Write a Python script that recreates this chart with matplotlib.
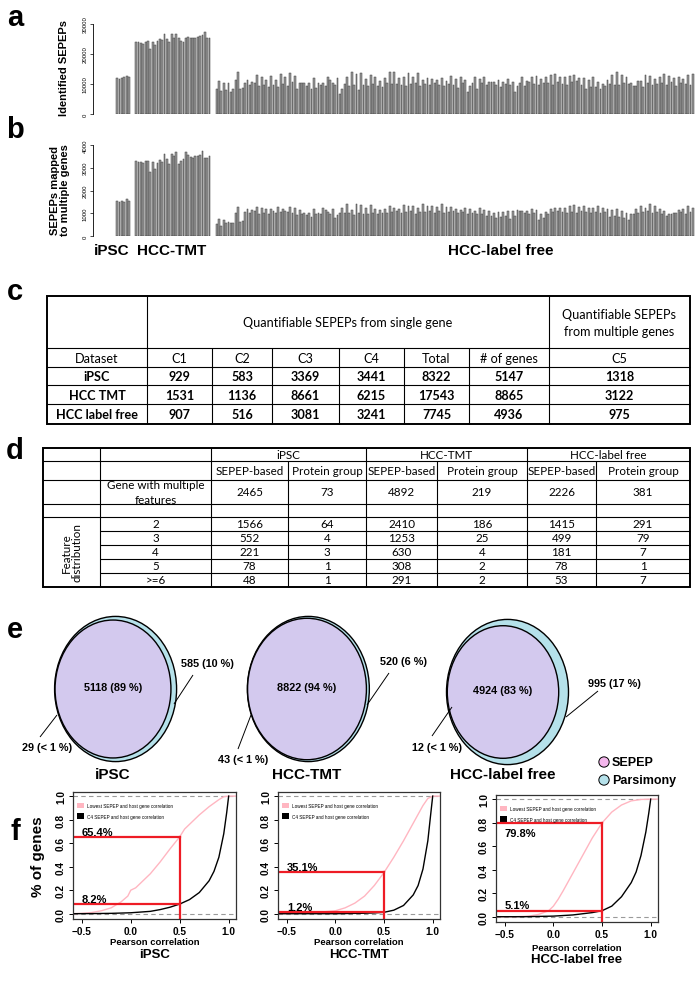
import numpy as np
import matplotlib
matplotlib.use("Agg")
import matplotlib.pyplot as plt
from matplotlib.patches import Ellipse, Rectangle

# ------------------------------------------------------------------ data
ipsc_identified = [12000, 11800, 11900, 12300, 12700, 12400]
tmt_identified = [24000, 24100, 23800, 23300, 24000, 24300, 21800, 24000, 22900, 24400,
                  25000, 24800, 26800, 25000, 23900, 26700, 25300, 26700, 25200, 24300,
                  23900, 25300, 25600, 25500, 25300, 25500, 25700, 25900, 26300, 27200,
                  25300, 25200]
lf_identified = [8300, 10900, 7600, 10300, 8000, 10300, 7500, 8400, 11400, 14100, 8300, 8700, 10300, 11500, 9700, 10600, 10400, 13100, 9300, 12300,
                 9600, 11300, 9000, 12600, 9700, 11400, 8900, 13500, 10000, 12200, 9300, 13600, 10600, 12600, 8400, 10300, 10200, 10400, 9200, 10300,
                 8200, 11900, 8600, 10200, 9700, 10300, 9300, 12200, 11200, 10400, 9600, 11900, 6700, 8400, 10000, 12300, 9200, 13900, 9800, 13200,
                 8100, 13600, 9600, 11600, 9500, 13000, 10100, 12400, 9500, 11100, 9100, 12100, 10500, 14000, 9900, 13900, 10100, 11900, 9800, 12400,
                 9400, 13700, 9900, 12300, 10500, 13600, 9500, 11300, 10000, 12100, 9800, 11800, 10300, 11300, 9700, 12000, 9400, 11000, 10100, 12600,
                 9700, 11600, 8600, 12500, 10200, 11300, 7300, 9300, 10300, 12300, 8300, 11800, 10200, 12200, 9600, 10800, 10700, 10600, 9600, 11200,
                 8900, 10700, 10000, 11600, 9800, 10800, 7200, 9500, 10500, 12500, 9200, 11100, 10600, 12300, 10000, 12800, 9700, 11700, 10300, 12200,
                 10300, 13100, 9600, 13400, 10600, 12200, 10000, 12300, 9800, 12800, 10700, 13100, 10900, 12000, 9600, 12000, 8500, 11300, 9100, 12300,
                 8900, 10800, 8300, 10000, 9500, 11300, 9900, 13000, 9800, 14000, 9700, 12900, 10300, 12300, 9900, 10400, 9300, 9300, 10900, 11000,
                 9100, 13100, 10300, 12800, 9700, 11600, 9900, 12400, 10500, 13300, 9600, 12700, 10800, 11900, 9400, 12200, 10200, 11700, 10000, 12900,
                 9800, 13400]
ipsc_multi = [1550, 1480, 1530, 1500, 1620, 1540]
tmt_multi = [3300, 3270, 3250, 3220, 3310, 3280, 2800, 3270, 2960, 3230, 3320, 3240, 3600, 3400, 3150, 3600,
             3520, 3700, 3150, 3300, 3400, 3700, 3550, 3480, 3450, 3500, 3520, 3560, 3740, 3450, 3440, 3520]
lf_multi = [540, 760, 440, 700, 560, 630, 560, 590, 1030, 1270, 620, 660, 1050, 1170, 1000, 1130, 1100, 1270, 980, 1250,
            1030, 1170, 980, 1200, 1100, 1030, 1290, 1050, 1170, 1100, 1050, 1290, 1000, 1250, 910, 1130, 950, 1030, 910, 1030,
            840, 1200, 980, 1030, 980, 1230, 1140, 1050, 950, 1200, 780, 910, 1030, 1220, 1000, 1420, 1030, 1130, 910, 1390,
            1030, 1350, 950, 1250, 980, 1380, 1000, 1200, 960, 1150, 1020, 1200, 1000, 1300, 1050, 1250, 1080, 1200, 1000, 1350,
            1050, 1300, 1100, 1320, 980, 1250, 1070, 1400, 1050, 1330, 1100, 1320, 1000, 1280, 1080, 1420, 1000, 1280, 1050, 1270,
            1100, 1200, 1000, 1150, 1050, 1250, 980, 1200, 1000, 1100, 980, 1250, 960, 1150, 870, 1100, 900, 1000, 800, 1050,
            850, 1050, 900, 1100, 750, 1100, 900, 1150, 1100, 1080, 1000, 1100, 950, 1180, 1000, 1150, 700, 950, 800, 1050,
            950, 1200, 1050, 1250, 1100, 1250, 1050, 1250, 1000, 1300, 1050, 1350, 1000, 1280, 1100, 1300, 1050, 1250, 1000, 1250,
            1050, 1300, 1000, 1250, 1050, 1200, 850, 1150, 900, 1200, 850, 1100, 800, 1000, 700, 950, 950, 1200, 1000, 1300,
            1050, 1250, 1100, 1400, 1000, 1300, 1050, 1200, 950, 1100, 900, 950, 950, 1000, 1000, 1150, 1050, 1200, 950, 1300,
            1050, 1250]
bar_groups = ["iPSC", "HCC-TMT", "HCC-label free"]
a_ticks = [0, 10000, 20000, 30000]
b_ticks = [0, 1000, 2000, 3000, 4000]

c_columns = ["Dataset", "C1", "C2", "C3", "C4", "Total", "# of genes", "C5"]
c_datasets = ["iPSC", "HCC TMT", "HCC label free"]
c_values = [[929, 583, 3369, 3441, 8322, 5147, 1318],
            [1531, 1136, 8661, 6215, 17543, 8865, 3122],
            [907, 516, 3081, 3241, 7745, 4936, 975]]

d_datasets = ["iPSC", "HCC-TMT", "HCC-label free"]
d_methods = ["SEPEP-based", "Protein group"]
d_multi = [2465, 73, 4892, 219, 2226, 381]
d_bins = ["2", "3", "4", "5", ">=6"]
d_dist = [[1566, 64, 2410, 186, 1415, 291],
          [552, 4, 1253, 25, 499, 79],
          [221, 3, 630, 4, 181, 7],
          [78, 1, 308, 2, 78, 1],
          [48, 1, 291, 2, 53, 7]]

venn_names = ["iPSC", "HCC-TMT", "HCC-label free"]
venn_both = [5118, 8822, 4924]
venn_sepep_only = [29, 43, 12]
venn_pars_only = [585, 520, 995]

cdf_names = ["iPSC", "HCC-TMT", "HCC-label free"]
low_x = [[-0.60, -0.50, -0.40, -0.30, -0.20, -0.10, -0.03, 0.00, 0.05, 0.10, 0.20, 0.30, 0.40, 0.50, 0.55, 0.60, 0.70, 0.80, 0.90, 0.95, 1.00, 1.07],
         [-0.60, -0.40, -0.20, 0.00, 0.10, 0.20, 0.30, 0.40, 0.50, 0.60, 0.70, 0.80, 0.90, 0.95, 1.00, 1.07],
         [-0.60, -0.40, -0.25, -0.15, -0.05, 0.00, 0.05, 0.10, 0.20, 0.30, 0.40, 0.50, 0.60, 0.70, 0.80, 0.90, 1.00, 1.07]]
low_y = [[0.0, 0.003, 0.01, 0.025, 0.05, 0.10, 0.15, 0.20, 0.22, 0.26, 0.34, 0.44, 0.55, 0.654, 0.72, 0.76, 0.84, 0.91, 0.97, 0.995, 1.0, 1.0],
         [0.0, 0.003, 0.01, 0.025, 0.05, 0.09, 0.15, 0.24, 0.351, 0.48, 0.62, 0.77, 0.92, 0.98, 1.0, 1.0],
         [0.0, 0.0, 0.005, 0.02, 0.05, 0.09, 0.15, 0.22, 0.37, 0.52, 0.67, 0.798, 0.89, 0.95, 0.985, 0.997, 1.0, 1.0]]
c4_x = [[-0.60, -0.40, -0.20, 0.00, 0.20, 0.30, 0.40, 0.50, 0.60, 0.70, 0.80, 0.85, 0.90, 0.95, 0.98, 1.00],
        [-0.60, 0.00, 0.30, 0.40, 0.50, 0.60, 0.70, 0.80, 0.85, 0.90, 0.95, 0.98, 1.00],
        [-0.60, -0.30, 0.00, 0.20, 0.40, 0.50, 0.60, 0.70, 0.80, 0.85, 0.90, 0.95, 0.98, 1.00]]
c4_y = [[0.0, 0.001, 0.003, 0.008, 0.02, 0.035, 0.055, 0.082, 0.12, 0.18, 0.28, 0.36, 0.48, 0.68, 0.86, 1.0],
        [0.0, 0.0, 0.004, 0.007, 0.012, 0.03, 0.07, 0.16, 0.24, 0.38, 0.62, 0.85, 1.0],
        [0.0, 0.0, 0.005, 0.015, 0.035, 0.051, 0.09, 0.17, 0.29, 0.38, 0.52, 0.72, 0.88, 1.0]]
low_at_05 = [65.4, 35.1, 79.8]
c4_at_05 = [8.2, 1.2, 5.1]
cutoff = 0.5

# ------------------------------------------------------------------ layout helpers
W, H = 700, 1003
fig = plt.figure(figsize=(7.0, 10.03), dpi=100)
RF = ["Liberation Sans", "DejaVu Sans"]
NF = ["Liberation Sans Narrow", "Liberation Sans", "DejaVu Sans"]
TF = ["Lato", "DejaVu Sans"]


def rect(l, t, r, b):
    return [l / W, 1 - b / H, (r - l) / W, (b - t) / H]


ov = fig.add_axes([0, 0, 1, 1])
ov.set_xlim(0, W)
ov.set_ylim(H, 0)
ov.axis("off")
ov.patch.set_alpha(0)


def line(xs, ys, lw=0.8, color="black", **kw):
    ov.plot(xs, ys, color=color, lw=lw, solid_capstyle="butt", **kw)


def txt(x, y, s, size=8, weight="normal", fam=TF, **kw):
    kw.setdefault("ha", "center")
    kw.setdefault("va", "center")
    ov.text(x, y, s, fontsize=size, fontweight=weight, family=fam, **kw)


# panel letters
for lab, y in zip("abcdef", [18, 130, 292, 451, 630, 832]):
    txt(15, y, lab, size=21, weight="bold", fam=RF)

# ------------------------------------------------------------------ panels a / b
gap = 2.0
starts, pos = 0.0, []
for g in [ipsc_identified, tmt_identified, lf_identified]:
    pos.append(starts + np.arange(len(g)))
    starts += len(g) + gap
n_slots = starts - gap
px_per = (694 - 116) / n_slots
x_left = -0.5 - (116 - 93) / px_per
x_right = n_slots - 0.5 + (697 - 694) / px_per


def bar_panel(top, zero_y, unit_px, groups, ticks):
    ymax = (zero_y - top) / unit_px
    ax = fig.add_axes(rect(93, top, 697, zero_y))
    for p, vals in zip(pos, groups):
        ax.bar(p, vals, width=0.78, color="#9b9b9b", edgecolor="#3c3c3c", linewidth=0.35)
    ax.set_xlim(x_left, x_right)
    ax.set_ylim(0, ymax)
    for s in ["top", "right", "bottom"]:
        ax.spines[s].set_visible(False)
    ax.spines["left"].set_bounds(ticks[0], ticks[-1])
    ax.spines["left"].set_linewidth(0.6)
    ax.set_xticks([])
    ax.set_yticks(ticks)
    ax.set_yticklabels([str(t) for t in ticks], rotation=90, va="center", fontsize=4.3, family=RF)
    ax.tick_params(axis="y", length=2.5, width=0.5, pad=1.5)
    ax.patch.set_alpha(0)
    return ax


bar_panel(18, 115, 0.003, [ipsc_identified, tmt_identified, lf_identified], a_ticks)
bar_panel(141, 237, 0.02275, [ipsc_multi, tmt_multi, lf_multi], b_ticks)
txt(64, 68, "Identified SEPEPs", size=8, weight="bold", fam=RF, rotation=90)
txt(60, 190, "SEPEPs mapped\nto multiple genes", size=8, weight="bold", fam=RF, rotation=90, linespacing=1.0)
for cxg, name in zip([112, 172, 501], bar_groups):
    txt(cxg, 251, name, size=11, weight="bold", fam=RF)

# ------------------------------------------------------------------ table c
cxs = [47, 147, 212, 272, 339, 404, 469, 549, 690]
cys = [297, 349, 368, 386, 405, 425]
CS = 9.1
ov.add_patch(Rectangle((cxs[0], cys[0]), cxs[-1] - cxs[0], cys[-1] - cys[0], fill=False, lw=1.4, ec="black"))
for y in cys[1:-1]:
    line([cxs[0], cxs[-1]], [y, y])
for x in [cxs[1], cxs[7]]:
    line([x, x], [cys[0], cys[-1]])
for x in cxs[2:7]:
    line([x, x], [cys[1], cys[-1]])
txt((cxs[1] + cxs[7]) / 2, (cys[0] + cys[1]) / 2, "Quantifiable SEPEPs from single gene", size=CS)
txt((cxs[7] + cxs[8]) / 2, (cys[0] + cys[1]) / 2, "Quantifiable SEPEPs\nfrom multiple genes", size=CS, linespacing=1.5)
for j, name in enumerate(c_columns):
    txt((cxs[j] + cxs[j + 1]) / 2, (cys[1] + cys[2]) / 2, name, size=CS)
for i, (name, vals) in enumerate(zip(c_datasets, c_values)):
    yc = (cys[i + 2] + cys[i + 3]) / 2
    txt((cxs[0] + cxs[1]) / 2, yc, name, size=CS, weight="bold")
    for j, v in enumerate(vals):
        txt((cxs[j + 1] + cxs[j + 2]) / 2, yc, str(v), size=CS, weight="bold")

# ------------------------------------------------------------------ table d
dxs = [43, 100, 211, 288, 366, 437, 527, 596, 690]
dys = [449, 462, 481, 505, 518, 532, 546, 560, 574, 588]
DS = 8.4
ov.add_patch(Rectangle((dxs[0], dys[0]), dxs[-1] - dxs[0], dys[-1] - dys[0], fill=False, lw=1.4, ec="black"))
for y in dys[1:5]:
    line([dxs[0], dxs[-1]], [y, y])
for y in dys[5:-1]:
    line([dxs[1], dxs[-1]], [y, y])
for x in [dxs[1], dxs[2], dxs[4], dxs[6]]:
    line([x, x], [dys[0], dys[-1]])
for x in [dxs[3], dxs[5], dxs[7]]:
    line([x, x], [dys[1], dys[-1]])
for k, name in enumerate(d_datasets):
    txt((dxs[2 + 2 * k] + dxs[4 + 2 * k]) / 2, (dys[0] + dys[1]) / 2, name, size=DS)
    for m, meth in enumerate(d_methods):
        j = 2 + 2 * k + m
        txt((dxs[j] + dxs[j + 1]) / 2, (dys[1] + dys[2]) / 2, meth, size=DS)
txt((dxs[1] + dxs[2]) / 2, (dys[2] + dys[3]) / 2, "Gene with multiple\nfeatures", size=DS, linespacing=1.4)
for j, v in enumerate(d_multi):
    txt((dxs[j + 2] + dxs[j + 3]) / 2, (dys[2] + dys[3]) / 2, str(v), size=DS)
for i, (b, vals) in enumerate(zip(d_bins, d_dist)):
    yc = (dys[i + 4] + dys[i + 5]) / 2
    txt((dxs[1] + dxs[2]) / 2, yc, b, size=DS)
    for j, v in enumerate(vals):
        txt((dxs[j + 2] + dxs[j + 3]) / 2, yc, str(v), size=DS)
txt((dxs[0] + dxs[1]) / 2, (dys[4] + dys[-1]) / 2, "Feature\ndistribution", size=DS, rotation=90, linespacing=1.0)

# ------------------------------------------------------------------ panel e (Venn)
PURPLE = "#d3c9ee"
BLUE = "#b5e1ea"


def pct(n, tot):
    p = 100.0 * n / tot
    return "< 1 %" if p < 1 else "%d %%" % round(p)


venn_cx = [113, 307, 503]
venn_cy = [690, 690, 693]
RB = 61.0
ASPECT = 1.19
right_lab = [((207, 664), (174, 705), (193, 676)),
             ((403, 662), (367, 706), (389, 674)),
             ((614, 684), (566, 718), (598, 692))]
left_lab = [((47, 748), (40, 738), (57, 716)),
            ((243, 760), (238, 750), (251, 716)),
            ((437, 748), (432, 737), (452, 708))]
VS = 7.8
for k in range(3):
    tot = venn_both[k] + venn_sepep_only[k] + venn_pars_only[k]
    sepep_tot = venn_both[k] + venn_sepep_only[k]
    pars_tot = venn_both[k] + venn_pars_only[k]
    rp = RB * np.sqrt(sepep_tot / pars_tot)
    off = (RB - rp) * 0.85
    cxp, cyp = venn_cx[k], venn_cy[k]
    ov.add_patch(Ellipse((cxp + off, cyp), 2 * RB, 2 * RB * ASPECT, fc=BLUE, ec="black", lw=1.0))
    ov.add_patch(Ellipse((cxp, cyp), 2 * rp, 2 * rp * ASPECT, fc=PURPLE, ec="black", lw=1.0))
    txt(cxp, cyp - 2, "%d (%s)" % (venn_both[k], pct(venn_both[k], tot)), size=VS, weight="bold", fam=NF)
    (tx, ty), p0, p1 = right_lab[k]
    txt(tx, ty, "%d (%s)" % (venn_pars_only[k], pct(venn_pars_only[k], tot)), size=VS, weight="bold", fam=NF)
    line([p0[0], p1[0]], [p0[1], p1[1]], lw=0.7)
    (tx, ty), p0, p1 = left_lab[k]
    txt(tx, ty, "%d (%s)" % (venn_sepep_only[k], pct(venn_sepep_only[k], tot)), size=VS, weight="bold", fam=NF)
    line([p0[0], p1[0]], [p0[1], p1[1]], lw=0.7)
    txt(cxp, 775, venn_names[k], size=11, weight="bold", fam=RF)

ov.scatter([604, 604], [763, 781], s=55, c=["#f4b6ec", BLUE], edgecolors="black", linewidths=0.7, zorder=5)
txt(612, 763, "SEPEP", size=9, weight="bold", fam=NF, ha="left")
txt(612, 781, "Parsimony", size=9, weight="bold", fam=NF, ha="left")

# ------------------------------------------------------------------ panel f (CDFs)
f_boxes = [(73, 793, 236, 920), (278, 793, 440, 920), (496, 796, 658, 923)]
for k in range(3):
    l, t, r, b = f_boxes[k]
    ax = fig.add_axes(rect(l, t, r, b))
    ax.set_xlim(-0.59, 1.075)
    ax.set_ylim(-0.045, 1.035)
    ax.axhline(0, color="#9a9a9a", lw=0.8, ls=(0, (4, 3)))
    ax.axhline(1, color="#9a9a9a", lw=0.8, ls=(0, (4, 3)))
    ax.plot(low_x[k], low_y[k], color="#ffb6c1", lw=1.0)
    ax.plot(c4_x[k], c4_y[k], color="black", lw=1.0)
    lo, c4 = low_at_05[k] / 100, c4_at_05[k] / 100
    red = "#ee1c25"
    ax.plot([-0.59, cutoff], [lo, lo], color=red, lw=1.6)
    ax.plot([-0.59, cutoff], [c4, c4], color=red, lw=1.6)
    ax.plot([cutoff, cutoff], [-0.045, lo], color=red, lw=1.6)
    if k == 2:
        ax.text(-0.5, lo - 0.085, "%.1f%%" % low_at_05[k], fontsize=8, fontweight="bold", family=RF, va="center")
    else:
        ax.text(-0.5, lo + 0.045, "%.1f%%" % low_at_05[k], fontsize=8, fontweight="bold", family=RF, va="center")
    ax.text(-0.5, c4 + 0.045, "%.1f%%" % c4_at_05[k], fontsize=8, fontweight="bold", family=RF, va="center")
    # legend
    ax.add_patch(Rectangle((-0.55, 0.895), 0.07, 0.05, fc="#ffb6c1", ec="none"))
    ax.add_patch(Rectangle((-0.55, 0.805), 0.07, 0.05, fc="black", ec="none"))
    ax.text(-0.45, 0.92, "Lowest SEPEP and host gene correlation", fontsize=3.3, family=RF, va="center")
    ax.text(-0.45, 0.83, "C4 SEPEP and host gene correlation", fontsize=3.3, family=RF, va="center")
    ax.set_xticks([-0.5, 0.0, 0.5, 1.0])
    ax.set_xticklabels(["\u22120.5", "0.0", "0.5", "1.0"], fontsize=7.3, fontweight="bold", family=RF)
    ax.set_yticks([0, 0.2, 0.4, 0.6, 0.8, 1.0])
    ax.set_yticklabels(["0.0", "0.2", "0.4", "0.6", "0.8", "1.0"], fontsize=7.3, fontweight="bold",
                       family=RF, rotation=90, va="center")
    ax.tick_params(length=3, width=0.7, pad=2)
    for s in ax.spines.values():
        s.set_linewidth(0.9)
        s.set_color("#333333")
    ax.set_xlabel("Pearson correlation", fontsize=6.8, fontweight="bold", family=RF,
                  labelpad=(3 if k == 2 else 1))
    cx = (l + r) / 2
    txt(cx, b + 35 + (2 if k == 2 else 0), cdf_names[k], size=9.5, weight="bold", fam=RF)
    if k == 0:
        txt(38, (t + b) / 2, "% of genes", size=11, weight="bold", fam=RF, rotation=90)

fig.savefig("out.png", dpi=100)
